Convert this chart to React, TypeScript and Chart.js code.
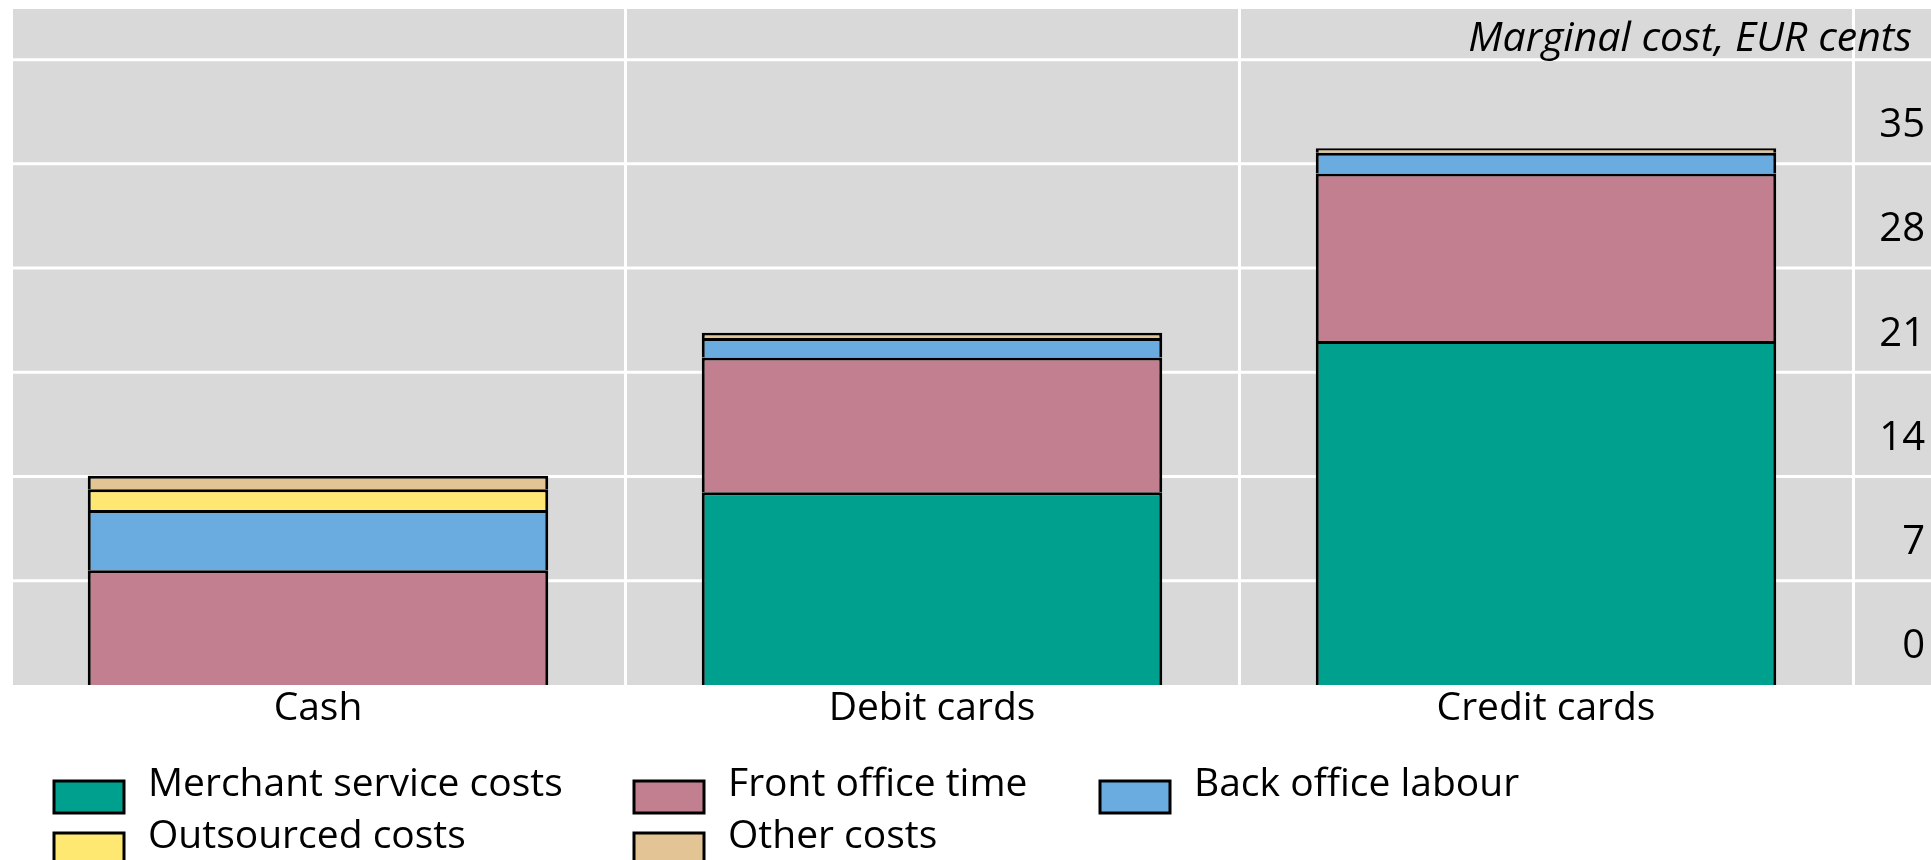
import { useEffect, useRef } from 'react';
import { Chart, registerables } from 'chart.js';

Chart.register(...registerables);

// Payment instruments on the category axis
const categories = ['Cash', 'Debit cards', 'Credit cards'];

// Marginal cost components, EUR cents per transaction
const merchantService = [0, 12.95, 23.1];
const frontOffice = [7.7, 9.05, 11.25];
const backOffice = [4.05, 1.3, 1.4];
const outsourced = [1.4, 0, 0];
const otherCosts = [0.9, 0.35, 0.3];

const seriesNames = [
  'Merchant service costs',
  'Front office time',
  'Back office labour',
  'Outsourced costs',
  'Other costs',
];
const seriesColors = ['#00a08f', '#c27f8f', '#6aace0', '#ffe872', '#e3c494'];

// Value axis
const yTicks = [0, 7, 14, 21, 28, 35, 42];
const yTickLabels = ['0', '7', '14', '21', '28', '35', ''];
const yMax = 45.4;
const unitLabel = 'Marginal cost, EUR cents';

const FONT = "'Open Sans', sans-serif";
const PLOT_BG = '#d9d9d9';

// Grey panel behind the plot (including the right-hand tick area) and horizontal grid lines
const panelPlugin = {
  id: 'panel',
  beforeDraw(chart: any) {
    const { ctx, chartArea } = chart;
    const y = chart.scales.y;
    ctx.save();
    ctx.fillStyle = PLOT_BG;
    ctx.fillRect(chartArea.left, chartArea.top, chart.width - chartArea.left, chartArea.bottom - chartArea.top);
    ctx.strokeStyle = '#ffffff';
    ctx.lineWidth = 3;
    yTicks.forEach((v) => {
      if (v === 0) return;
      const py = y.getPixelForValue(v);
      ctx.beginPath();
      ctx.moveTo(chartArea.left, py);
      ctx.lineTo(chart.width, py);
      ctx.stroke();
    });
    ctx.restore();
  },
};

// Unit label in the top-right corner and a three-column legend below the axis
const annotationPlugin = {
  id: 'annotations',
  afterDraw(chart: any) {
    const { ctx } = chart;
    ctx.save();
    ctx.fillStyle = '#000000';
    ctx.font = `italic 41px ${FONT}`;
    ctx.textAlign = 'right';
    ctx.textBaseline = 'alphabetic';
    ctx.fillText(unitLabel, 1912, 51);

    const colX = [54, 634, 1100];
    ctx.textAlign = 'left';
    ctx.font = `39px ${FONT}`;
    chart.data.datasets.forEach((ds: any, i: number) => {
      const col = i % 3;
      const row = Math.floor(i / 3);
      const x = colX[col];
      const base = 796 + row * 52;
      ctx.fillStyle = ds.backgroundColor;
      ctx.fillRect(x, base - 15, 70, 32);
      ctx.strokeStyle = '#000000';
      ctx.lineWidth = 3;
      ctx.strokeRect(x, base - 15, 70, 32);
      ctx.fillStyle = '#000000';
      ctx.fillText(ds.label, x + 94, base);
    });
    ctx.restore();
  },
};

export default function App() {
  const canvasRef = useRef<HTMLCanvasElement | null>(null);

  useEffect(() => {
    const canvas = canvasRef.current;
    if (!canvas) return;
    const seriesValues = [merchantService, frontOffice, backOffice, outsourced, otherCosts];
    const chart = new Chart(canvas, {
      type: 'bar',
      data: {
        labels: categories,
        datasets: seriesValues.map((values, i) => ({
          label: seriesNames[i],
          data: values,
          backgroundColor: seriesColors[i],
          borderColor: '#000000',
          borderWidth: 3,
          categoryPercentage: 1,
          barPercentage: 0.75,
        })),
      },
      options: {
        responsive: false,
        animation: false,
        devicePixelRatio: 1,
        layout: { padding: { left: 11, top: 9, right: 0, bottom: 0 } },
        plugins: {
          legend: { display: false },
          title: { display: false },
          tooltip: { enabled: false },
        },
        scales: {
          x: {
            stacked: true,
            grid: { color: '#ffffff', lineWidth: 3, drawTicks: false, offset: true },
            border: { display: false },
            ticks: { font: { family: FONT, size: 39 }, color: '#000000', padding: 0 },
            afterFit(scale: any) {
              scale.height = 175;
              scale.paddingLeft = 0;
              scale.paddingRight = 0;
            },
          },
          y: {
            stacked: true,
            position: 'right',
            min: 0,
            max: yMax,
            grid: { display: false, drawTicks: false },
            border: { display: false },
            afterBuildTicks(scale: any) {
              scale.ticks = yTicks.map((v) => ({ value: v }));
            },
            ticks: {
              font: { family: FONT, size: 40 },
              color: '#000000',
              // right-aligned labels inside the axis band, ending 6px from its edge
              mirror: true,
              crossAlign: 'near',
              padding: 72,
              labelOffset: -38,
              autoSkip: false,
              callback: (value: any) => {
                const idx = yTicks.indexOf(Number(value));
                return idx >= 0 ? yTickLabels[idx] : '';
              },
            },
            afterFit(scale: any) {
              scale.width = 78;
              scale.paddingTop = 0;
              scale.paddingBottom = 0;
            },
          },
        },
      },
      plugins: [panelPlugin, annotationPlugin],
    });
    return () => chart.destroy();
  }, []);

  return (
    <div style={{ position: 'fixed', left: 0, top: 0, width: 1931, height: 860, background: '#ffffff' }}>
      <canvas ref={canvasRef} width={1931} height={860} style={{ width: 1931, height: 860, display: 'block' }} />
    </div>
  );
}
